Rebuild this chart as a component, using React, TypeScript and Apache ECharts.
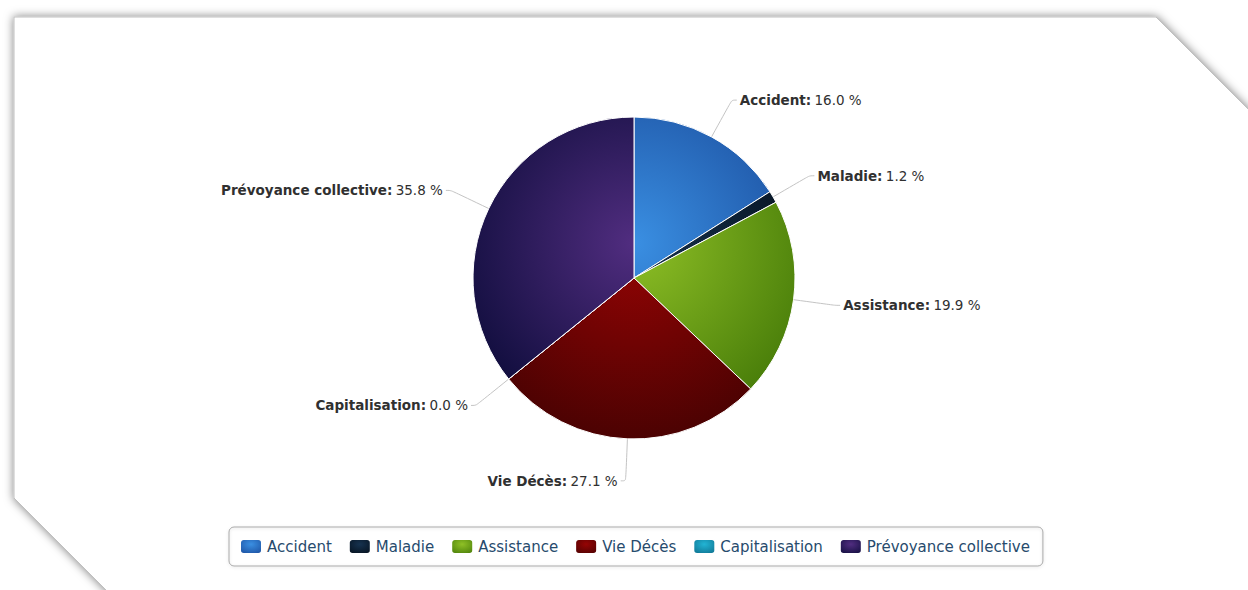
import React, { useEffect, useRef } from "react";
import * as echarts from "echarts";

const categories = ["Accident", "Maladie", "Assistance", "Vie Décès", "Capitalisation", "Prévoyance collective"];
const values = [16.0, 1.2, 19.9, 27.1, 0.0, 35.8];
const lightColors = ["#3a8fe2", "#16324f", "#8fc026", "#960404", "#22b4d4", "#512d80"];
const darkColors = ["#1a4c9c", "#05101c", "#457a08", "#4a0202", "#0e6e8c", "#0d0c3a"];

const FONT = "DejaVu Sans";

export default function App() {
  const ref = useRef<HTMLDivElement>(null);
  useEffect(() => {
    if (!ref.current) return;
    const chart = echarts.init(ref.current, null, { renderer: "svg" });
    const cx = 634;
    const cy = 278;
    const R = 161;
    const grad = (i: number) => ({
      type: "radial",
      x: cx,
      y: cy - 35,
      r: 200,
      global: true,
      colorStops: [
        { offset: 0, color: lightColors[i] },
        { offset: 1, color: darkColors[i] },
      ],
    });
    const iconGrad = (i: number) => ({
      type: "radial",
      x: 0.5,
      y: 0.35,
      r: 0.8,
      colorStops: [
        { offset: 0, color: lightColors[i] },
        { offset: 1, color: darkColors[i] },
      ],
    });
    chart.setOption({
      animation: false,
      backgroundColor: "#ffffff",
      graphic: [
        {
          type: "polygon",
          z: -10,
          silent: true,
          shape: {
            points: [
              [14, 17],
              [1156, 17],
              [1275, 136],
              [1275, 620],
              [136, 620],
              [14, 498],
            ],
          },
          style: {
            fill: "#ffffff",
            stroke: "#c0c0c0",
            lineWidth: 1,
            shadowBlur: 10,
            shadowColor: "rgba(0,0,0,0.5)",
            shadowOffsetX: 0,
            shadowOffsetY: 0,
          },
        },
      ],
      legend: {
        data: categories.map((name, i) => ({ name, itemStyle: { color: iconGrad(i) } })),
        top: 527,
        left: 229,
        orient: "horizontal",
        icon: "roundRect",
        itemWidth: 22,
        itemHeight: 15,
        itemGap: 16,
        padding: [11, 13, 11, 10],
        borderColor: "#a8a8a8",
        borderWidth: 1,
        borderRadius: 5,
        shadowBlur: 3,
        shadowColor: "rgba(0,0,0,0.15)",
        shadowOffsetY: 1,
        textStyle: { color: "#274b6d", fontSize: 15, fontFamily: FONT },
      },
      series: [
        {
          type: "pie",
          center: [cx, cy],
          radius: R,
          startAngle: 90,
          clockwise: true,
          percentPrecision: 1,
          avoidLabelOverlap: true,
          itemStyle: { borderColor: "#ffffff", borderWidth: 1 },
          label: {
            show: true,
            position: "outside",
            distanceToLabelLine: 3,
            formatter: (p: any) => `{b|${p.name}:} {v|${Number(p.percent).toFixed(1)} %}`,
            rich: {
              b: { fontWeight: "bold", fontSize: 13.5, color: "#303030", fontFamily: FONT },
              v: { fontSize: 13.5, color: "#303030", fontFamily: FONT },
            },
          },
          labelLine: {
            show: true,
            length: 42,
            length2: 5,
            smooth: 0.3,
            lineStyle: { color: "#c4c4c4", width: 1 },
          },
          emphasis: { disabled: true },
          data: categories.map((name, i) => ({
            name,
            value: values[i],
            itemStyle: { color: grad(i) },
          })),
        },
      ],
    });
    return () => chart.dispose();
  }, []);
  return <div ref={ref} style={{ position: "fixed", left: 0, top: 0, width: 1248, height: 590 }} />;
}
